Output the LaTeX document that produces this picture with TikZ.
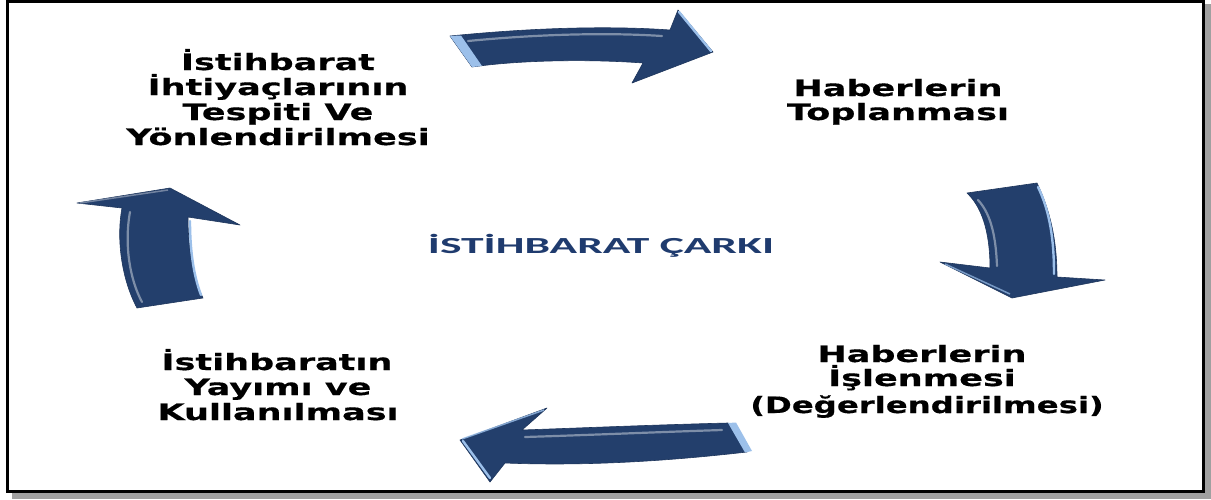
\documentclass[tikz,border=0pt]{standalone}
\usepackage{fontspec}
\newfontfamily\lblfont[FakeStretch=1.55,FakeBold=0.5]{DejaVu Sans}
\newfontfamily\lblnarrowfont[FakeStretch=1.43,FakeBold=0.5]{DejaVu Sans}
\newfontfamily\ttlfont[FakeStretch=1.98]{Carlito}
\definecolor{navy}{HTML}{233F6C}
\definecolor{hilite}{HTML}{9CC0EA}
\definecolor{ttlblue}{HTML}{1F3B6E}
\definecolor{shadowgray}{HTML}{A0A0A0}
\begin{document}
\begin{tikzpicture}[x=1pt,y=-1pt,
  lbl/.style={anchor=base, inner sep=0pt, font=\lblfont\bfseries\fontsize{22.6}{25}\selectfont},
  lblnarrow/.style={lbl, font=\lblnarrowfont\bfseries\fontsize{22.6}{25}\selectfont},
  ttl/.style={anchor=base, inner sep=0pt, text=ttlblue, font=\ttlfont\bfseries\fontsize{23}{26}\selectfont},
  arrowbody/.style={fill=navy, draw=navy!85!black, line width=0.6pt, line join=round},
  bevel/.style={fill=hilite, draw=none},
  gloss/.style={draw=navy!45!white, line width=2.2pt, line cap=round, opacity=0.75},
  edgelight/.style={draw=hilite, line width=2.4pt, line cap=round},
  frame/.style={draw=black, line width=3pt},
  shadowbar/.style={fill=shadowgray, draw=none}
]
\useasboundingbox (0,0) rectangle (1211,499);
% shadow and frame
\fill[shadowbar] (1205,4) rectangle (1211,499);
\fill[shadowbar] (12,493) rectangle (1211,499);
\fill[white] (7.5,1.5) rectangle (1203.5,491.5);
\draw[frame] (7.5,1.5) rectangle (1203.5,491.5);

% top arrow (to the right)
\draw[arrowbody] (450,36) .. controls (520,29) and (600,25) .. (670,30) -- (678,10) -- (713,52) -- (632,83) -- (643,63)
  .. controls (590,59) and (520,60) .. (472,67) -- cycle;
\fill[bevel] (450,36) -- (461,35.5) -- (482,66) -- (472,67) -- cycle;
\draw[gloss] (468,41) .. controls (530,35) and (600,32) .. (662,36);
\draw[edgelight] (679,12) -- (711,51);

% right arrow (down)
\draw[arrowbody] (967,193) -- (1037,183) .. controls (1050,210) and (1057,240) .. (1057,277) -- (1105,280) -- (1012,298)
  -- (940,262) -- (990,268) .. controls (990,240) and (985,210) .. (967,193) -- cycle;
\draw[gloss] (978,200) .. controls (992,215) and (996,240) .. (997,266);
\draw[edgelight] (1038,187) .. controls (1050,212) and (1054,240) .. (1054,274);
\draw[draw=hilite, line width=1.5pt, opacity=0.7] (945,264) -- (1010,294);

% bottom arrow (to the left)
\draw[arrowbody] (728,423) .. controls (650,425) and (580,428) .. (522,430) -- (547,408) -- (460,440) -- (490,482) -- (505,463)
  .. controls (580,466) and (660,462) .. (747,452) -- cycle;
\fill[bevel] (728,423) -- (736,422.5) -- (752,451) -- (745,452.5) -- cycle;
\draw[gloss] (525,437) .. controls (590,435) and (660,432) .. (722,430);
\draw[edgelight] (463,441) -- (490,478);
\draw[draw=hilite, line width=1.5pt, opacity=0.8] (462,439) -- (544,410);

% left arrow (up)
\draw[arrowbody] (137,308) .. controls (122,280) and (116,240) .. (122,208) -- (77,203) -- (170,188) -- (240,225)
  -- (188,217) .. controls (188,245) and (192,275) .. (203,298) -- cycle;
\draw[gloss] (130,212) .. controls (124,245) and (130,280) .. (142,302);
\draw[edgelight] (190,221) .. controls (190,248) and (193,274) .. (201,295);
\draw[draw=navy!55!white, line width=1.5pt, opacity=0.8] (80,203) -- (168,190);

% labels
\node[lbl] (tl1) at (278,70) {İstihbarat};
\node[lbl] (tl2) at (278,95) {İhtiyaçlarının};
\node[lbl] (tl3) at (278,120) {Tespiti Ve};
\node[lbl] (tl4) at (278,145) {Yönlendirilmesi};

\node[lbl] (tr1) at (898,96) {Haberlerin};
\node[lbl] (tr2) at (898,120) {Toplanması};

\node[lbl] (br1) at (922,362) {Haberlerin};
\node[lbl] (br2) at (922,386) {İşlenmesi};
\node[lblnarrow] (br3) at (927,413) {(Değerlendirilmesi)};

\node[lbl] (bl1) at (277,370) {İstihbaratın};
\node[lbl] (bl2) at (278,395) {Yayımı ve};
\node[lbl] (bl3) at (278,420) {Kullanılması};

\node[ttl] (title) at (601,253) {İSTİHBARAT ÇARKI};
\end{tikzpicture}
\end{document}
